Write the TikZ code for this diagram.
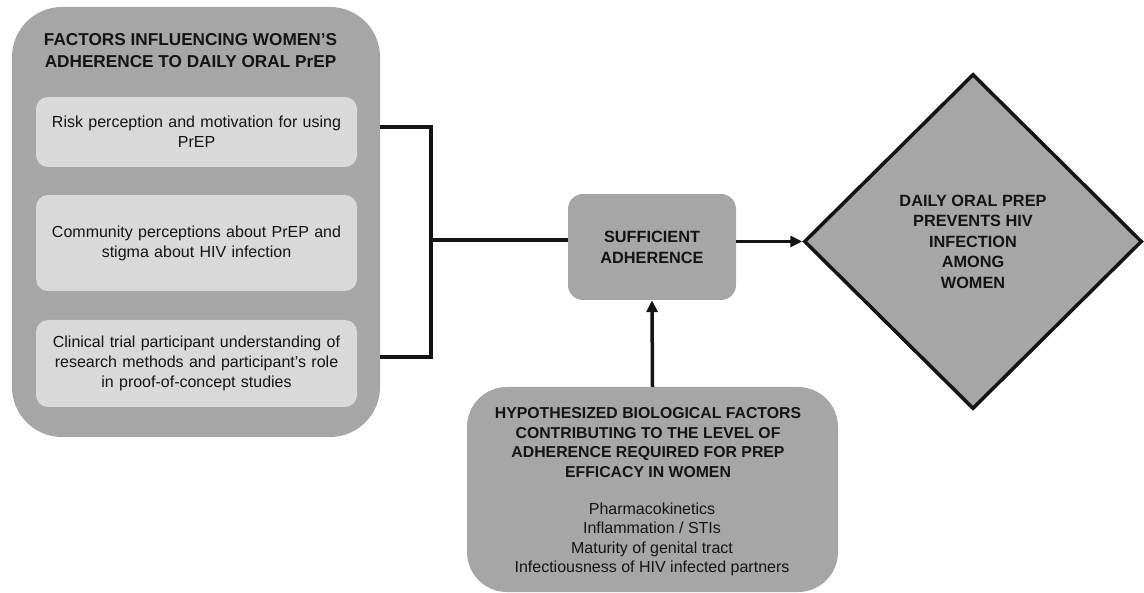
\documentclass[tikz,border=0pt]{standalone}
\usepackage{fontspec}
\setmainfont{Liberation Sans}
\usetikzlibrary{shapes.geometric, positioning, arrows.meta, calc}
\definecolor{BoxGrey}{RGB}{166,166,166}
\definecolor{PaleGrey}{RGB}{217,217,217}
\definecolor{InkBlack}{RGB}{20,20,20}

\begin{document}
\begin{tikzpicture}[x=1pt, y=-1pt,
    outerbox/.style={fill=BoxGrey, inner sep=0pt},
    itembox/.style={fill=PaleGrey, rounded corners=12pt, inner xsep=6pt, text width=309pt,
        align=center, text=InkBlack, font=\fontsize{16}{20}\selectfont},
    headtext/.style={align=center, text=InkBlack, font=\fontsize{16.3}{21}\selectfont\bfseries},
    conn/.style={line width=3.5pt, InkBlack},
    arr/.style={conn, -{Triangle[length=12pt, width=11pt]}}]
    \useasboundingbox (0,0) rectangle (1144,593);

    % Bloque de factores de adherencia
    \node[outerbox, rounded corners=50pt, minimum width=368pt, minimum height=430pt] (factors) at (196,222) {};
    \node[headtext, font=\fontsize{17.2}{22}\selectfont\bfseries] (ftitle) at (190.5,51) {FACTORS INFLUENCING WOMEN’S\\ADHERENCE TO DAILY ORAL PrEP};
    \node[itembox, minimum height=70pt] (risk) at (196.5,132) {Risk perception and motivation for using\\PrEP};
    \node[itembox, minimum height=96pt] (community) at (196.5,243) {Community perceptions about PrEP and\\stigma about HIV infection};
    \node[itembox, minimum height=87pt] (clinical) at (196.5,363.5) {Clinical trial participant understanding of\\research methods and participant’s role\\in proof-of-concept studies};

    % Adherencia suficiente
    \node[outerbox, headtext, rounded corners=15pt, minimum width=168pt, minimum height=106pt] (suff) at (652,247) {SUFFICIENT\\ADHERENCE};

    % Resultado
    \node[diamond, fill=BoxGrey, draw=InkBlack, line width=3.5pt, inner sep=0pt,
        minimum width=338pt, minimum height=335pt, headtext, font=\fontsize{16.3}{20.5}\selectfont\bfseries] (goal) at (973,241.5)
        {DAILY ORAL PREP\\PREVENTS HIV\\INFECTION\\AMONG\\WOMEN};

    % Factores biologicos
    \node[outerbox, rounded corners=40pt, minimum width=371pt, minimum height=205pt] (bio) at (652.5,489.5) {};
    \node[headtext, font=\fontsize{15.8}{19.7}\selectfont\bfseries] (biohead) at (648,442.5)
        {HYPOTHESIZED BIOLOGICAL FACTORS\\CONTRIBUTING TO THE LEVEL OF\\ADHERENCE REQUIRED FOR PREP\\EFFICACY IN WOMEN};
    \node[align=center, text=InkBlack, font=\fontsize{16}{19.3}\selectfont] (biolist) at (652,539.5)
        {Pharmacokinetics\\Inflammation / STIs\\Maturity of genital tract\\Infectiousness of HIV infected partners};

    % Conectores
    \coordinate (joint) at (431,240);
    \draw[conn] ([yshift=5pt]factors.east |- risk.east) -| (joint) |- ([yshift=6.5pt]factors.east |- clinical.east);
    \draw[conn] (joint) -- (joint -| suff.west);
    \draw[arr] (suff.east |- goal.west) -- (goal.west);
    \draw[arr] (bio.north) -- (suff.south);
\end{tikzpicture}
\end{document}
